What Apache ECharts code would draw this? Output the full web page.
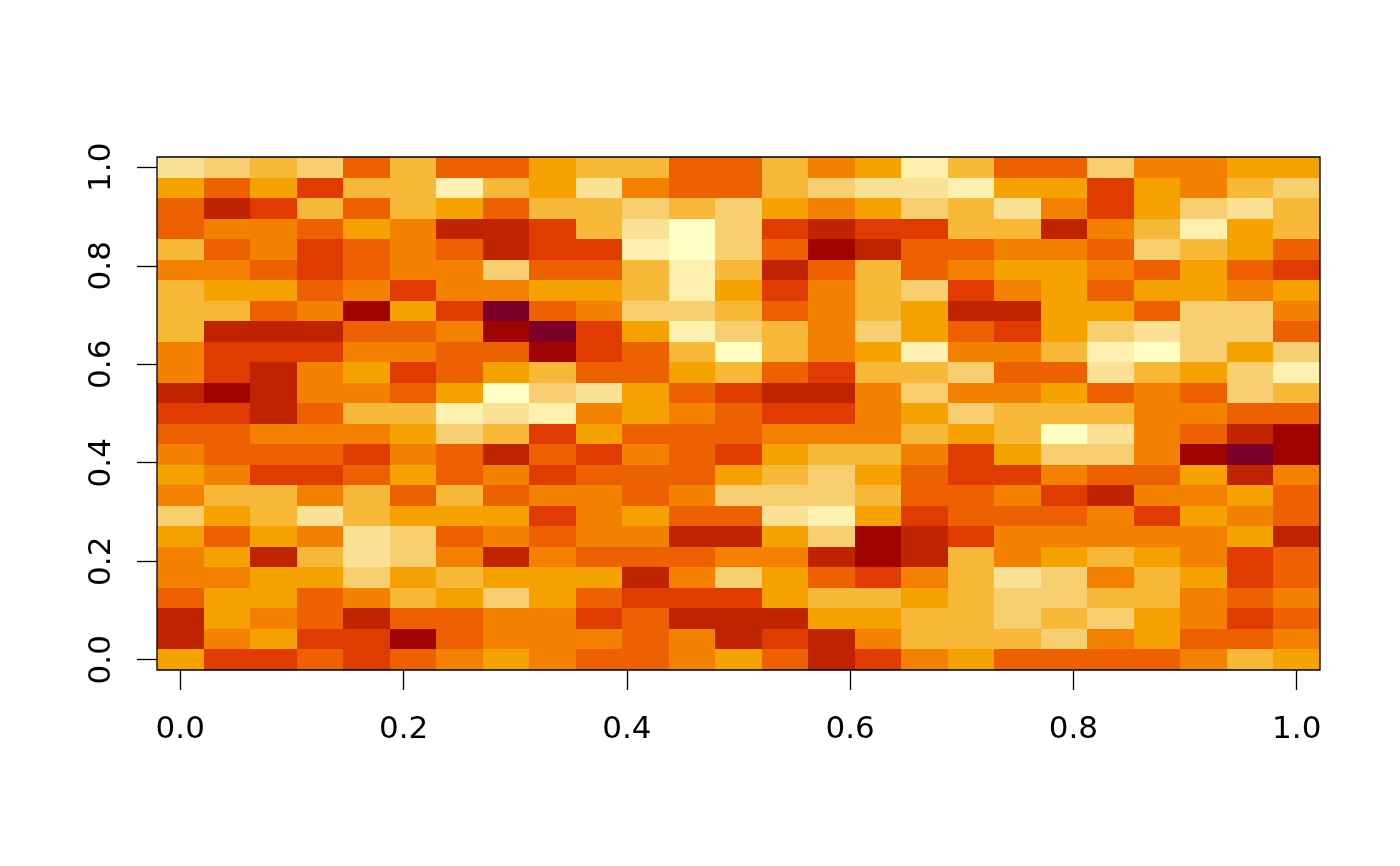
<!DOCTYPE html>
<html>
<head>
<meta charset="utf-8">
<script src="https://cdn.jsdelivr.net/npm/echarts@6/dist/echarts.min.js"></script>
<style>
  html, body { margin: 0; padding: 0; background: #fff; }
  #chart { width: 1400px; height: 866px; }
</style>
</head>
<body>
<div id="chart"></div>
<script>
// tick positions on both axes
const ticks = [0, 0.2, 0.4, 0.6, 0.8, 1];

// cell centres, 25 x 25 on the unit square
const colCount = 25;
const rowCount = 25;

// colour levels, top row first (0 = darkest, 11 = palest)
const levelRows = [
    [9,8,7,8,4,7,4,4,6,7,7,4,4,7,5,6,10,7,4,4,8,5,5,6,6],
    [6,4,6,3,7,7,10,7,6,9,5,4,4,7,8,9,9,10,6,6,3,6,5,7,8],
    [4,2,3,7,4,7,6,4,7,7,8,7,8,6,5,6,8,7,9,5,3,6,8,9,7],
    [4,5,5,4,6,5,2,2,3,7,9,11,8,3,2,3,3,7,7,2,5,7,10,6,7],
    [7,4,5,3,4,5,4,2,3,3,10,11,8,4,1,2,4,4,5,5,4,8,7,6,4],
    [5,5,4,3,4,5,5,8,4,4,7,10,7,2,4,7,4,5,6,6,5,4,6,4,3],
    [7,6,6,4,5,3,5,5,6,6,7,10,6,3,5,7,8,3,5,6,4,6,6,5,6],
    [7,7,4,5,1,6,3,0,4,5,8,8,7,4,5,7,6,2,2,6,6,4,8,8,5],
    [7,2,2,2,4,4,5,1,0,3,6,10,8,7,5,8,6,4,3,6,8,9,8,8,4],
    [5,3,3,3,5,5,4,4,1,3,4,7,11,7,5,6,10,5,5,7,10,11,8,6,8],
    [5,3,2,5,6,3,4,6,7,4,4,6,7,4,3,7,7,8,4,4,9,7,6,8,10],
    [2,1,2,5,5,4,6,11,8,9,6,4,3,2,2,5,8,5,5,6,4,5,4,8,7],
    [3,3,2,4,7,7,10,9,10,5,6,5,4,3,3,5,6,8,7,7,7,5,5,4,4],
    [4,4,5,5,5,6,8,7,3,6,4,4,4,5,5,5,7,6,7,11,9,5,4,2,1],
    [5,4,4,4,3,5,4,2,4,3,5,4,3,6,7,7,5,3,6,8,8,5,1,0,1],
    [6,5,3,3,4,6,4,5,3,4,4,4,6,7,8,6,4,3,3,5,4,4,6,2,5],
    [5,7,7,5,7,4,7,4,5,5,4,5,8,8,8,7,4,4,5,3,2,5,5,6,4],
    [8,6,7,9,7,6,6,6,3,5,6,4,4,9,10,6,3,4,4,4,5,3,6,5,4],
    [6,4,6,5,9,8,4,5,4,5,5,2,2,6,8,1,2,3,5,5,5,5,5,6,2],
    [5,6,2,7,9,8,5,2,5,4,4,4,5,5,2,1,2,7,5,6,7,6,5,3,4],
    [5,5,6,6,8,6,7,6,6,6,2,5,8,6,4,3,5,7,9,8,5,7,6,3,4],
    [4,6,6,4,5,7,6,8,6,4,3,3,3,6,7,7,6,7,8,8,7,7,5,4,5],
    [2,6,5,4,2,4,4,5,5,3,4,2,2,2,6,6,7,7,8,7,8,6,5,3,4],
    [2,5,6,3,3,1,4,5,5,5,4,5,2,3,2,5,7,7,7,8,5,6,4,4,5],
    [6,3,3,4,3,4,5,6,5,4,4,5,6,4,2,3,5,6,4,4,4,4,5,7,6]
];

const palette = [
    '#7a0028', '#a00400', '#c02300', '#e03b00', '#ee6100', '#f48100',
    '#f6a200', '#f8b838', '#f7cf70', '#fbe195', '#fef1b0', '#ffffc4'
];

const halfX = 0.5 / (colCount - 1);
const halfY = 0.5 / (rowCount - 1);

// [x, y, level]
const cells = [];
levelRows.forEach((row, r) => {
    row.forEach((level, c) => {
        cells.push([c / (colCount - 1), 1 - r / (rowCount - 1), level]);
    });
});

const chart = echarts.init(document.getElementById('chart'));

function renderCell(params, api) {
    const x = api.value(0);
    const y = api.value(1);
    const a = api.coord([x - halfX, y + halfY]);
    const b = api.coord([x + halfX, y - halfY]);
    const left = Math.round(a[0]);
    const top = Math.round(a[1]);
    return {
        type: 'rect',
        shape: { x: left, y: top, width: Math.round(b[0]) - left, height: Math.round(b[1]) - top },
        style: { fill: palette[api.value(2)] }
    };
}

function axisOption(margin, rotate) {
    return {
        type: 'value',
        splitLine: { show: false },
        // keep the axes on the box edge, 0 is inside the range
        axisLine: { show: false, onZero: false },
        axisTick: {
            show: true,
            customValues: ticks,
            length: 20,
            lineStyle: { color: '#000', width: 1.3 }
        },
        axisLabel: {
            show: true,
            customValues: ticks,
            margin: margin,
            rotate: rotate,
            hideOverlap: false,
            color: '#000',
            fontFamily: '"DejaVu Sans"',
            fontSize: 31,
            formatter: v => v.toFixed(1)
        }
    };
}

chart.setOption({
    animation: false,
    backgroundColor: '#fff',
    grid: {
        left: 157,
        top: 157,
        width: 1163,
        height: 513,
        show: true,
        z: 5,
        backgroundColor: 'transparent',
        borderColor: '#000',
        borderWidth: 1.3
    },
    xAxis: { ...axisOption(44, 0), min: -halfX, max: 1 + halfX },
    yAxis: { ...axisOption(40, 90), min: -halfY, max: 1 + halfY },
    series: [{
        type: 'custom',
        renderItem: renderCell,
        data: cells,
        encode: { x: 0, y: 1 },
        silent: true,
        clip: true
    }]
});
</script>
</body>
</html>
